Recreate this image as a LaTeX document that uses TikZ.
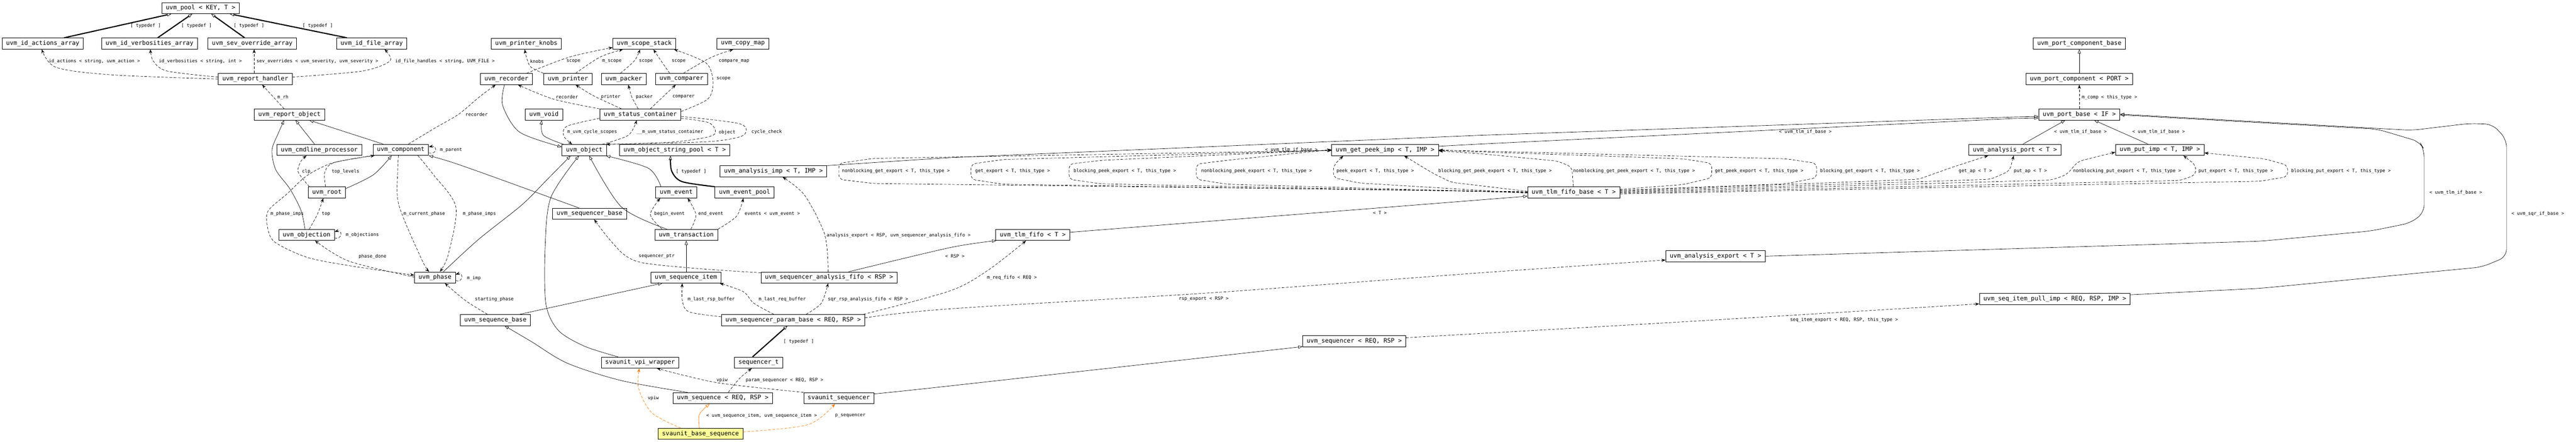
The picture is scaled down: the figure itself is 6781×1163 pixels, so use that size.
\documentclass[tikz,border=0pt]{standalone}
\usepackage{fontspec}
\newfontfamily\monofam{DejaVu Sans Mono}
\usetikzlibrary{arrows.meta}
\definecolor{orng}{RGB}{255,119,0}
\definecolor{ylw}{RGB}{255,255,153}
\newcommand{\elab}[4]{\node[lbl] (#1) at (#2,#3) {#4};}
\begin{document}
\begin{tikzpicture}[x=1pt,y=-1pt,
  cls/.style={draw, line width=1.1pt, rectangle, minimum height=29pt, inner xsep=10.5pt, inner ysep=0pt, font=\monofam\fontsize{16}{18}\selectfont, fill=white},
  lbl/.style={anchor=west, inner sep=0pt, font=\monofam\fontsize{12.1}{14}\selectfont},
  inh/.style={line width=0.9pt, -{Triangle[open,length=11pt,width=8pt,line width=0.9pt]}},
  tdf/.style={line width=3pt, -{Triangle[open,length=11pt,width=8pt,line width=1pt]}},
  usg/.style={line width=0.9pt, dash pattern=on 7pt off 4pt, -{Stealth[length=11pt,width=8pt]}},
  oinh/.style={inh, color=orng},
  ousg/.style={usg, color=orng}]
\fill[white] (0,0) rectangle (6781,1163);
\useasboundingbox (0,0) rectangle (6781,1163);

% ---------------- nodes ----------------
\node[cls] (pool) at (528,21.5) {uvm\_pool < KEY, T >};
\node[cls] (idact) at (112.5,114.5) {uvm\_id\_actions\_array};
\node[cls] (idverb) at (393.5,114.5) {uvm\_id\_verbosities\_array};
\node[cls] (sevov) at (664,114.5) {uvm\_sev\_override\_array};
\node[cls] (idfile) at (978.5,114.5) {uvm\_id\_file\_array};
\node[cls] (handler) at (672,208) {uvm\_report\_handler};
\node[cls] (repobj) at (762,301.5) {uvm\_report\_object};
\node[cls] (cmdline) at (840.5,394.5) {uvm\_cmdline\_processor};
\node[cls] (component) at (1055,394.5) {uvm\_component};
\node[cls] (root) at (860.5,506.5) {uvm\_root};
\node[cls] (objection) at (807,618.5) {uvm\_objection};
\node[cls] (phase) at (1145,730.5) {uvm\_phase};
\node[cls] (knobs) at (1385.5,115) {uvm\_printer\_knobs};
\node[cls] (scope) at (1696,115) {uvm\_scope\_stack};
\node[cls] (copymap) at (1955.5,115) {uvm\_copy\_map};
\node[cls] (recorder) at (1333,208) {uvm\_recorder};
\node[cls] (printer) at (1495,208) {uvm\_printer};
\node[cls] (packer) at (1642,208) {uvm\_packer};
\node[cls] (comparer) at (1794,208) {uvm\_comparer};
\node[cls] (void) at (1432,301.5) {uvm\_void};
\node[cls] (status) at (1685.5,301.5) {uvm\_status\_container};
\node[cls] (object) at (1538,395) {uvm\_object};
\node[cls] (strpool) at (1776,395) {uvm\_object\_string\_pool < T >};
\node[cls] (aimp) at (2036,451) {uvm\_analysis\_imp < T, IMP >};
\node[cls] (event) at (1780,506.5) {uvm\_event};
\node[cls] (eventpool) at (1960,506.5) {uvm\_event\_pool};
\node[cls] (seqrbase) at (1552,562.5) {uvm\_sequencer\_base};
\node[cls] (trans) at (1806.5,618.5) {uvm\_transaction};
\node[cls] (seqitem) at (1805.5,730.5) {uvm\_sequence\_item};
\node[cls] (afifo) at (2182.5,730.5) {uvm\_sequencer\_analysis\_fifo < RSP >};
\node[cls] (seqbase) at (1304,842.5) {uvm\_sequence\_base};
\node[cls] (parambase) at (2088,842.5) {uvm\_sequencer\_param\_base < REQ, RSP >};
\node[cls] (vpi) at (1685,954.5) {svaunit\_vpi\_wrapper};
\node[cls] (seqrt) at (1997,954.5) {sequencer\_t};
\node[cls] (seq) at (1902.5,1048) {uvm\_sequence < REQ, RSP >};
\node[cls] (svseqr) at (2208,1048) {svaunit\_sequencer};
\node[cls, fill=ylw] (basesq) at (1844,1142) {svaunit\_base\_sequence};
\node[cls] (tlmfifo) at (2718.5,618.5) {uvm\_tlm\_fifo < T >};
\node[cls] (seqr) at (3565,898.5) {uvm\_sequencer < REQ, RSP >};
\node[cls] (gpimp) at (3646,395) {uvm\_get\_peek\_imp < T, IMP >};
\node[cls] (fifobase) at (4142.5,506.5) {uvm\_tlm\_fifo\_base < T >};
\node[cls] (aexport) at (4516,674.5) {uvm\_analysis\_export < T >};
\node[cls] (aport) at (5304,394.5) {uvm\_analysis\_port < T >};
\node[cls] (putimp) at (5685.5,394.5) {uvm\_put\_imp < T, IMP >};
\node[cls] (pullimp) at (5409,787) {uvm\_seq\_item\_pull\_imp < REQ, RSP, IMP >};
\node[cls] (pcb) at (5473.5,114.5) {uvm\_port\_component\_base};
\node[cls] (pc) at (5473.5,208) {uvm\_port\_component < PORT >};
\node[cls] (pbase) at (5473.5,301.5) {uvm\_port\_base < IF >};

% ---------------- report side ----------------
\draw[tdf] ([xshift=56.5pt]idact.north) -- ([xshift=-77pt]pool.south);
\draw[tdf] ([xshift=21.5pt]idverb.north) -- ([xshift=-22pt]pool.south);
\draw[tdf] ([xshift=-20pt]sevov.north) -- ([xshift=28pt]pool.south);
\draw[tdf] ([xshift=-65.5pt]idfile.north) -- ([xshift=77pt]pool.south);
\draw[usg] plot[smooth,tension=0.5] coordinates {(handler.west) (293,197) (147,177) ([xshift=-2.5pt]idact.south)};
\draw[usg] plot[smooth,tension=0.5] coordinates {([yshift=5pt]handler.west) (440,187) (403,160) ([xshift=2.5pt]idverb.south)};
\draw[usg] ([xshift=-3pt]handler.north) -- ([xshift=5pt]sevov.south);
\draw[usg] plot[smooth,tension=0.5] coordinates {([yshift=5pt]handler.east) (954,187) (1027,160) ([xshift=33.5pt]idfile.south)};
\draw[usg] ([xshift=-14pt]repobj.north) -- ([xshift=18pt]handler.south);
\draw[inh] ([xshift=-12.5pt]cmdline.north) -- ([xshift=16pt]repobj.south);
\draw[inh] ([xshift=-46pt]component.north) -- ([xshift=52pt]repobj.south);
\draw[inh] plot[smooth,tension=0.5] coordinates {([xshift=-4pt]objection.north) (792,553) (763,497) (726,447) (716,395) (733,350) ([xshift=-14pt]repobj.south)};
\draw[inh] plot[smooth,tension=0.5] coordinates {([yshift=10pt]root.east) (983,460) ([xshift=-24pt]component.south)};
\draw[usg] plot[smooth,tension=0.5] coordinates {([xshift=-46pt]root.north) (785,453) (792,425) ([xshift=-33.5pt]cmdline.south)};
\draw[usg] plot[smooth,tension=0.5] coordinates {([xshift=-3.5pt]root.north) (855,453) (880,428) ([xshift=5pt]component.south west)};
\draw[usg] plot[smooth,tension=0.5] coordinates {([xshift=-1pt]component.south west) (917,420) (866,432) (807,463) (756,510) (706,555) (704,597) (723,637) (807,677) (917,699) ([yshift=6pt]phase.west)};
\draw[usg] plot[smooth,tension=0.5] coordinates {([xshift=-6pt]component.south) (1047,450) (1050,540) (1110,683) ([xshift=-15pt]phase.north)};
\draw[usg] plot[smooth,tension=0.5] coordinates {([xshift=45pt]component.south) (1141,460) (1200,545) (1180,670) ([xshift=13pt]phase.north)};
\draw[usg] plot[smooth,tension=0.5] coordinates {([xshift=7pt]objection.north) (836,563) ([xshift=-9.5pt]root.south)};
\draw[usg] ([yshift=-8pt]objection.east) .. controls (902,632) and (902,603) .. ([yshift=8pt]objection.east);
\draw[usg] plot[smooth,tension=0.5] coordinates {([yshift=1pt]phase.west) (990,707) (917,687) (870,662) ([xshift=22pt]objection.south)};
\draw[usg] ([yshift=-8pt]component.east) .. controls (1152,407) and (1152,383) .. ([yshift=8pt]component.east);
\draw[inh] plot[smooth,tension=0.5] coordinates {([xshift=-28pt]seqrbase.north) (1300,466) (1189,427) (component.south east)};
\draw[usg] plot[smooth,tension=0.5] coordinates {([xshift=20pt]component.north) (1145,337) (1207,301) (1262,255) ([xshift=-28pt]recorder.south)};

% ---------------- object side ----------------
\draw[usg] plot[smooth,tension=0.5] coordinates {(printer.north west) (1395,174) ([xshift=-4.5pt]knobs.south)};
\draw[usg] plot[smooth,tension=0.5] coordinates {([xshift=53pt]recorder.north) (1500,150) ([yshift=-10pt]scope.west)};
\draw[usg] plot[smooth,tension=0.5] coordinates {([xshift=20pt]printer.north) (1580,150) ([xshift=-56pt]scope.south)};
\draw[usg] plot[smooth,tension=0.5] coordinates {([xshift=-9pt]packer.north) (1670,160) ([xshift=-11pt]scope.south)};
\draw[usg] plot[smooth,tension=0.5] coordinates {([xshift=-31pt]comparer.north) (1740,160) ([xshift=24pt]scope.south)};
\draw[usg] plot[smooth,tension=0.5] coordinates {([xshift=5pt]comparer.north) (1870,152) ([xshift=-25pt]copymap.south)};
\draw[usg] plot[smooth,tension=0.5] coordinates {([yshift=8pt]status.east) (1863,261) (1877,217) (1859,166) ([xshift=-5pt]scope.south east)};
\draw[usg] plot[smooth,tension=0.5] coordinates {(status.north west) (1457,261) ([xshift=30pt]recorder.south)};
\draw[usg] plot[smooth,tension=0.5] coordinates {([xshift=-49.5pt]status.north) (1564,253) ([xshift=20pt]printer.south)};
\draw[usg] plot[smooth,tension=0.5] coordinates {([xshift=-5.5pt]status.north) (1663,255) ([xshift=12pt]packer.south)};
\draw[usg] plot[smooth,tension=0.5] coordinates {([xshift=26.5pt]status.north) (1745,255) ([xshift=-15pt]comparer.south)};
\draw[inh] plot[smooth,tension=0.5] coordinates {([xshift=-5pt]recorder.south) (1323,277) (1368,348) ([yshift=8pt]object.west)};
\draw[inh] plot[smooth,tension=0.5] coordinates {([xshift=5pt]object.north west) (1430,356) ([xshift=-6pt]void.south)};
\draw[usg] plot[smooth,tension=0.5] coordinates {([yshift=-10pt]status.west) (1493,332) (1484,358) ([xshift=-32pt]object.north)};
\draw[usg] plot[smooth,tension=0.5] coordinates {([xshift=-12pt]object.north east) (1654,356) ([xshift=-9.5pt]status.south)};
\draw[usg] plot[smooth,tension=0.5] coordinates {([yshift=-10pt]status.east) (1868,324) (1877,356) (1770,374) ([xshift=-2pt]object.north east)};
\draw[usg] plot[smooth,tension=0.5] coordinates {([yshift=-5pt]status.east) (1948,326) (1957,356) (1877,372) (1700,378) ([xshift=-2pt]object.north east)};
\draw[tdf] plot[smooth,tension=0.5] coordinates {(eventpool.north west) (1795,478) (1768,450) ([xshift=-11pt]strpool.south)};
\draw[inh] plot[smooth,tension=0.5] coordinates {([xshift=-40pt]event.north) (1707,443) ([xshift=-2pt]object.south east)};
\draw[inh] plot[smooth,tension=0.5] coordinates {([xshift=-50.5pt]trans.north) (1636,545) ([xshift=13pt]object.south)};
\draw[inh] plot[smooth,tension=0.5] coordinates {([xshift=22pt]phase.north) (1260,630) (1373,540) (1439,474) ([xshift=-36pt]object.south)};
\draw[inh] plot[smooth,tension=0.5] coordinates {([xshift=-58pt]vpi.north) (1540,912) (1470,870) (1437,800) (1435,650) (1450,520) ([xshift=-14pt]object.south)};
\draw[usg] plot[smooth,tension=0.5] coordinates {([xshift=-63.5pt]trans.north) (1712,565) ([xshift=-42pt]event.south)};
\draw[usg] plot[smooth,tension=0.5] coordinates {([xshift=12pt]trans.north) (1832,565) ([xshift=30pt]event.south)};
\draw[usg] plot[smooth,tension=0.5] coordinates {(trans.north east) (1939,569) ([xshift=-3pt]eventpool.south)};

% ---------------- sequence side ----------------
\draw[usg] plot[smooth,tension=0.5] coordinates {([xshift=-21pt]seqbase.north) (1225,791) ([xshift=26pt]phase.south)};
\draw[inh] ([xshift=64pt]seqbase.north) -- ([xshift=-62pt]seqitem.south);
\draw[usg] ([yshift=-8pt]phase.east) .. controls (1220,745) and (1220,716) .. ([yshift=8pt]phase.east);
\draw[inh] plot[smooth,tension=0.5] coordinates {([xshift=-92.5pt]seq.north) (1636,1002) (1493,956) (1400,900) ([xshift=24pt]seqbase.south)};
\draw[usg] plot[smooth,tension=0.5] coordinates {(svseqr.north west) (1904,1010) (1800,988) ([xshift=44pt]vpi.south)};
\draw[usg] plot[smooth,tension=0.5] coordinates {([xshift=14.5pt]seq.north) (1948,995) ([xshift=-18pt]seqrt.south)};
\draw[tdf] ([xshift=-16pt]seqrt.north) -- ([xshift=-15pt]parambase.south);
\draw[inh] ([xshift=1pt]seqitem.north) -- (trans.south);
\draw[usg] plot[smooth,tension=0.5] coordinates {([yshift=8.5pt]parambase.west) (1814,821) (1796,791) ([xshift=-9.5pt]seqitem.south)};
\draw[usg] plot[smooth,tension=0.5] coordinates {([xshift=-51pt]parambase.north) (1984,798) (1957,768) ([xshift=-4pt]seqitem.south east)};
\draw[usg] plot[smooth,tension=0.5] coordinates {([xshift=34pt]parambase.north) (2162,798) ([xshift=-2.5pt]afifo.south)};
\draw[usg] plot[smooth,tension=0.5] coordinates {([yshift=12.5pt]afifo.west) (1850,708) (1698,693) (1645,672) (1600,625) ([xshift=12pt]seqrbase.south)};
\draw[usg] plot[smooth,tension=0.5] coordinates {([xshift=-2.5pt]afifo.north) (2171,618) (2118,514) ([xshift=24pt]aimp.south)};
\draw[inh] plot[smooth,tension=0.5] coordinates {([xshift=51.5pt]afifo.north) (2500,652) ([xshift=2pt]tlmfifo.south west)};
\draw[usg] plot[smooth,tension=0.5] coordinates {([xshift=-4pt]parambase.north east) (2500,766) (2600,712) ([xshift=-17.5pt]tlmfifo.south)};
\draw[usg] plot[smooth,tension=0.5] coordinates {([yshift=6pt]parambase.east) (2500,813) (3200,770) (3900,718) ([yshift=-10pt]aexport.west)};
\draw[ousg] plot[smooth,tension=0.5] coordinates {([xshift=-52pt]basesq.north) (1716,1087) (1681,1022) ([xshift=-2pt]vpi.south)};
\draw[oinh] plot[smooth,tension=0.5] coordinates {([xshift=-3pt]basesq.north) (1841,1091) ([xshift=-34.5pt]seq.south)};
\draw[ousg] plot[smooth,tension=0.5] coordinates {([yshift=5pt]basesq.east) (2127,1118) ([xshift=-10pt]svseqr.south)};
\draw[inh] plot[smooth,tension=0.5] coordinates {([yshift=11pt]svseqr.east) (2500,1016) ([yshift=1pt]seqr.south west)};
\draw[usg] plot[smooth,tension=0.5] coordinates {([yshift=9.5pt]seqr.east) (4400,849) ([yshift=-13pt]pullimp.west)};

% ---------------- tlm / port side ----------------
\draw[inh] ([yshift=7pt]tlmfifo.east) -- ([yshift=-10pt]fifobase.west);
\draw[inh] (aimp.north east) -- (2500,415) -- (3900,356) -- (5300,308) -- ([yshift=-5pt]pbase.west);
\draw[inh] ([yshift=10pt]gpimp.east) -- (3900,379) -- (5300,312) -- ([yshift=-9pt]pbase.west);
\draw[inh, rounded corners=20pt] (aexport.east) -- (5950,635) -- (6241,608) -- (6345,587) -- (6381,560) -- (6381,393) -- (6369,373) -- (6258,340) -- ([yshift=-1pt]pbase.east);
\draw[inh, rounded corners=20pt] ([yshift=11pt]pullimp.east) -- (5950,759) -- (6533,703) -- (6598,676) -- (6598,367) -- (6561,327) -- (6500,325) -- (6349,343) -- ([yshift=1pt]pbase.east);
\draw[inh] ([xshift=21pt]aport.north) -- ([xshift=-37pt]pbase.south);
\draw[inh] ([xshift=-31pt]putimp.north) -- ([xshift=39pt]pbase.south);
\draw[inh] (pc.north) -- (pcb.south);
\draw[usg] (pbase.north) -- (pc.south);

\begin{scope}[rounded corners=12pt]
\draw[usg] ([yshift=2pt]fifobase.west) -- (2300,483) -- (2208,472) -- (2208,430) -- (2300,417) -- ([yshift=-1pt]gpimp.west);
\draw[usg] ([yshift=1pt]fifobase.west) -- (2640,485) -- (2556,472) -- (2556,432) -- (2640,420) -- ([yshift=-1pt]gpimp.west);
\draw[usg] (fifobase.west) -- (2900,484) -- (2814,472) -- (2814,432) -- (2900,422) -- (gpimp.west);
\draw[usg] ([yshift=-1pt]fifobase.west) -- (3230,485) -- (3149,472) -- (3149,432) -- (3230,422) -- ([yshift=1pt]gpimp.west);
\draw[usg] ([yshift=-2pt]fifobase.west) -- (3580,482) -- (3510,468) -- (3510,436) -- ([xshift=-110pt]gpimp.south);
\draw[usg] ([yshift=3pt]fifobase.west) -- (3820,480) -- (3770,455) -- ([xshift=50pt]gpimp.south);
\draw[usg] ([xshift=-1pt]fifobase.north) -- (4138,440) -- (4100,424) -- (3900,405) -- ([yshift=-2pt]gpimp.east);
\draw[usg] ([yshift=8pt]fifobase.east) -- (4430,486) -- (4506,468) -- (4506,430) -- (4430,418) -- ([yshift=-1pt]gpimp.east);
\draw[usg] ([yshift=6pt]fifobase.east) -- (4700,484) -- (4782,468) -- (4782,430) -- (4700,418) -- (gpimp.east);
\draw[usg] ([yshift=4pt]fifobase.east) -- (5050,472) -- (5140,440) -- ([xshift=-70pt]aport.south);
\draw[usg] ([yshift=2pt]fifobase.east) -- (5240,472) -- (5290,450) -- ([xshift=-3pt]aport.south);
\draw[usg] (fifobase.east) -- (5400,474) -- (5440,460) -- (5470,425) -- ([yshift=-6pt]putimp.west);
\draw[usg] ([yshift=-2pt]fifobase.east) -- (5740,475) -- (5780,460) -- (5780,435) -- ([xshift=62pt]putimp.south);
\draw[usg] ([yshift=-4pt]fifobase.east) -- (5950,477) -- (6022,465) -- (6022,435) -- (5960,418) -- ([yshift=-8pt]putimp.east);
\end{scope}

% ---------------- labels ----------------
\elab{l1}{343}{68}{[ typedef ]}
\elab{l2}{477}{68}{[ typedef ]}
\elab{l3}{615}{68}{[ typedef ]}
\elab{l4}{796}{68}{[ typedef ]}
\elab{l5}{128}{162}{id\_actions < string, uvm\_action >}
\elab{l6}{418}{162}{id\_verbosities < string, int >}
\elab{l7}{675}{162}{sev\_overrides < uvm\_severity, uvm\_severity >}
\elab{l8}{1040}{162}{id\_file\_handles < string, UVM\_FILE >}
\elab{l9}{730}{256}{m\_rh}
\elab{l10}{1395}{161}{knobs}
\elab{l11}{1491}{161}{scope}
\elab{l12}{1585}{161}{m\_scope}
\elab{l13}{1682}{161}{scope}
\elab{l14}{1768}{161}{scope}
\elab{l15}{1892}{161}{compare\_map}
\elab{l16}{1886}{208}{scope}
\elab{l17}{1463}{255}{recorder}
\elab{l18}{1582}{255}{printer}
\elab{l19}{1674}{255}{packer}
\elab{l20}{1770}{255}{comparer}
\elab{l21}{1225}{301}{recorder}
\elab{l22}{1493}{348}{m\_uvm\_cycle\_scopes}
\elab{l23}{1676}{348}{\_\_m\_uvm\_status\_container}
\elab{l24}{1892}{348}{object}
\elab{l25}{1978}{348}{cycle\_check}
\elab{l26}{1158}{395}{m\_parent}
\elab{l27}{795}{452}{clp}
\elab{l28}{873}{452}{top\_levels}
\elab{l29}{1779}{451}{[ typedef ]}
\elab{l30}{1722}{563}{begin\_event}
\elab{l31}{1838}{563}{end\_event}
\elab{l32}{1960}{563}{events < uvm\_event >}
\elab{l33}{712}{563}{m\_phase\_imps}
\elab{l34}{847}{563}{top}
\elab{l35}{1062}{563}{m\_current\_phase}
\elab{l36}{1218}{563}{m\_phase\_imps}
\elab{l37}{910}{619}{m\_objections}
\elab{l38}{2176}{620}{analysis\_export < RSP, uvm\_sequencer\_analysis\_fifo >}
\elab{l39}{1681}{675}{sequencer\_ptr}
\elab{l40}{944}{676}{phase\_done}
\elab{l41}{2488}{675}{< RSP >}
\elab{l42}{2598}{731}{m\_req\_fifo < REQ >}
\elab{l43}{1229}{732}{m\_imp}
\elab{l44}{1250}{788}{starting\_phase}
\elab{l45}{1810}{788}{m\_last\_rsp\_buffer}
\elab{l46}{1997}{788}{m\_last\_req\_buffer}
\elab{l47}{2179}{788}{sqr\_rsp\_analysis\_fifo < RSP >}
\elab{l48}{3103}{787}{rsp\_export < RSP >}
\elab{l49}{2062}{899}{[ typedef ]}
\elab{l50}{1886}{1001}{vpiw}
\elab{l51}{1963}{1001}{param\_sequencer < REQ, RSP >}
\elab{l52}{1705}{1048}{vpiw}
\elab{l53}{1859}{1095}{< uvm\_sequence\_item, uvm\_sequence\_item >}
\elab{l54}{2198}{1095}{p\_sequencer}
\elab{l55}{4712}{843}{seq\_item\_export < REQ, RSP, this\_type >}
\elab{l56}{3614}{561}{< T >}
\elab{l57}{3330}{395}{< uvm\_tlm\_if\_base >}
\elab{l58}{4683}{348}{< uvm\_tlm\_if\_base >}
\elab{l59}{5407}{348}{< uvm\_tlm\_if\_base >}
\elab{l60}{5613}{348}{< uvm\_tlm\_if\_base >}
\elab{l61}{6395}{507}{< uvm\_tlm\_if\_base >}
\elab{l62}{6611}{563}{< uvm\_sqr\_if\_base >}
\elab{l63}{5480}{256}{m\_comp < this\_type >}
\elab{l64}{2216}{451}{nonblocking\_get\_export < T, this\_type >}
\elab{l65}{2567}{451}{get\_export < T, this\_type >}
\elab{l66}{2826}{451}{blocking\_peek\_export < T, this\_type >}
\elab{l67}{3162}{451}{nonblocking\_peek\_export < T, this\_type >}
\elab{l68}{3518}{451}{peek\_export < T, this\_type >}
\elab{l69}{3786}{451}{blocking\_get\_peek\_export < T, this\_type >}
\elab{l70}{4141}{451}{nonblocking\_get\_peek\_export < T, this\_type >}
\elab{l71}{4514}{451}{get\_peek\_export < T, this\_type >}
\elab{l72}{4791}{451}{blocking\_get\_export < T, this\_type >}
\elab{l73}{5156}{451}{get\_ap < T >}
\elab{l74}{5301}{451}{put\_ap < T >}
\elab{l75}{5457}{451}{nonblocking\_put\_export < T, this\_type >}
\elab{l76}{5787}{451}{put\_export < T, this\_type >}
\elab{l77}{6031}{451}{blocking\_put\_export < T, this\_type >}
\end{tikzpicture}
\end{document}
